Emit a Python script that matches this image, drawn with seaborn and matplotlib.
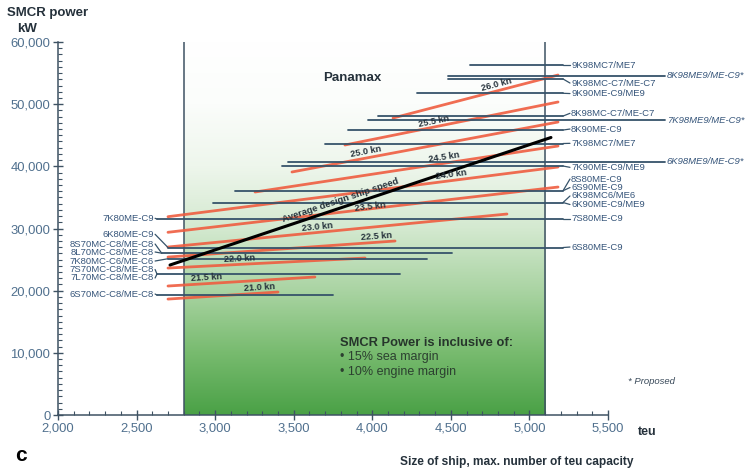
import numpy as np
import pandas as pd
import matplotlib
matplotlib.use('Agg')
import matplotlib.pyplot as plt
import seaborn as sns
from matplotlib.colors import LinearSegmentedColormap
from matplotlib.ticker import MultipleLocator, StrMethodFormatter

# Ship speed lines (kn), end points (teu, kW)
speeds = ['21.0', '21.5', '22.0', '22.5', '23.0', '23.5', '24.0', '24.5', '25.0', '25.5', '26.0']
speed_teu0 = [2700, 2700, 2700, 2700, 2700, 2700, 2700, 3254, 3489, 3826, 4132]
speed_kw0 = [18650, 20750, 23640, 25410, 27020, 29390, 31900, 35870, 39090, 43430, 47770]
speed_teu1 = [3400, 3635, 3954, 4145, 4857, 5182, 5182, 5182, 5182, 5182, 5182]
speed_kw1 = [19780, 22200, 25250, 27990, 32330, 36670, 39890, 43270, 47130, 50350, 54690]
speed_label_teu = [3286, 2948, 3158, 4030, 3655, 3990, 4507, 4463, 3966, 4399, 4800]

# Average design ship speed
avg_teu = [2713, 5137]
avg_kw = [24130, 44640]

# Engine SMCR power lines (kW) and their teu span
line_kw = [56300, 54580, 54050, 51750, 48090, 47450, 45840, 43670, 40740, 40050,
           36080, 34180, 31530, 26940, 26030, 25140, 22680, 19300]
line_teu0 = [4622, 4482, 4482, 4285, 4036, 3973, 3846, 3700, 3464, 3425,
             3126, 2986, 2630, 2700, 2660, 2700, 2630, 2630]
line_teu1 = [5214, 5860, 5214, 5214, 5214, 5860, 5214, 5214, 5860, 5214,
             5214, 5214, 5214, 5214, 4506, 4347, 4176, 3748]

# Engine labels on the right side
right_names = ['9K98MC7/ME7', '9K98MC-C7/ME-C7', '9K90ME-C9/ME9', '8K98MC-C7/ME-C7',
               '8K90ME-C9', '7K98MC7/ME7', '7K90ME-C9/ME9', '8S80ME-C9', '6S90ME-C9',
               '6K98MC6/ME6', '6K90ME-C9/ME9', '7S80ME-C9', '6S80ME-C9']
right_line_kw = [56300, 54050, 51750, 48090, 45840, 43670, 40050, 36080, 36080,
                 34180, 34180, 31530, 26940]
right_label_kw = [56300, 53400, 51710, 48530, 46000, 43700, 39840, 37960, 36590,
                  35230, 33860, 31530, 27020]

# Proposed engines, labels far right
prop_names = ['8K98ME9/ME-C9*', '7K98ME9/ME-C9*', '6K98ME9/ME-C9*']
prop_kw = [54580, 47450, 40740]

# Engine labels on the left side
left_names = ['7K80ME-C9', '6K80ME-C9', '8S70MC-C8/ME-C8', '8L70MC-C8/ME-C8',
              '7K80MC-C6/ME-C6', '7S70MC-C8/ME-C8', '7L70MC-C8/ME-C8', '6S70MC-C8/ME-C8']
left_label_kw = [31640, 29070, 27505, 26220, 24770, 23400, 22040, 19460]
left_line_kw = [31530, 26940, 26030, 26030, 25140, 22680, 22680, 19300]
left_line_teu0 = [2630, 2700, 2660, 2660, 2700, 2630, 2630, 2630]

# Green background gradient (kW level -> colour)
grad_kw = [0, 10000, 20000, 30000, 40000, 50000, 60000]
grad_col = ['#4aa146', '#78bb6f', '#aad4a3', '#d4e9d0', '#eef6ec', '#fbfdfb', '#ffffff']

ENG = '#36536a'
RED = '#ef5d40'
AXC = '#3e5263'
TICK = '#50708e'
LBL = '#36557a'
DARK = '#25313b'
LFS = 6.8

sns.set_theme(style='ticks')
plt.rcParams['font.family'] = ['Liberation Sans', 'DejaVu Sans']

fig = plt.figure(figsize=(7.51, 4.73), dpi=100)
ax = fig.add_axes([0.0772, 0.1226, 0.7324, 0.7886])

cmap = LinearSegmentedColormap.from_list('g', list(zip(np.array(grad_kw) / 60000, grad_col)))
ax.imshow(np.linspace(0, 1, 256).reshape(-1, 1), extent=[2800, 5100, 0, 60000],
          origin='lower', aspect='auto', cmap=cmap, zorder=0)
ax.set_xlim(2000, 5500)
ax.set_ylim(0, 60000)

ax.axvline(2800, color=AXC, lw=1.1, zorder=1)
ax.axvline(5100, color=AXC, lw=1.1, zorder=1)

# speed lines
rows = []
for s, x0, y0, x1, y1 in zip(speeds, speed_teu0, speed_kw0, speed_teu1, speed_kw1):
    rows += [(s, x0, y0), (s, x1, y1)]
spd = pd.DataFrame(rows, columns=['speed', 'teu', 'kW'])
sns.lineplot(data=spd, x='teu', y='kW', units='speed', estimator=None, color=RED,
             lw=2.0, alpha=0.9, ax=ax, zorder=2)

# engine lines
rows = []
for i, (kw, x0, x1) in enumerate(zip(line_kw, line_teu0, line_teu1)):
    rows += [(i, x0, kw), (i, x1, kw)]
eng = pd.DataFrame(rows, columns=['id', 'teu', 'kW'])
sns.lineplot(data=eng, x='teu', y='kW', units='id', estimator=None, color=ENG,
             lw=1.3, ax=ax, zorder=3, clip_on=False)

# average design ship speed
sns.lineplot(x=avg_teu, y=avg_kw, color='black', lw=2.2, ax=ax, zorder=4)


def screen_angle(x0, y0, x1, y1):
    p0 = ax.transData.transform((x0, y0))
    p1 = ax.transData.transform((x1, y1))
    return np.degrees(np.arctan2(p1[1] - p0[1], p1[0] - p0[0]))


for s, x0, y0, x1, y1, xl in zip(speeds, speed_teu0, speed_kw0, speed_teu1, speed_kw1, speed_label_teu):
    yl = y0 + (y1 - y0) * (xl - x0) / (x1 - x0)
    # the 23.5 kn label sits right under the average line, so keep it tight to its line
    dy = -2 if s == '23.5' else 1
    ax.annotate(f'{s} kn', xy=(xl, yl), xytext=(0, dy), textcoords='offset points',
                rotation=screen_angle(x0, y0, x1, y1), rotation_mode='anchor',
                ha='center', va='bottom', fontsize=6.6, weight='bold', color=DARK, zorder=5)

xa = 3807
ya = avg_kw[0] + (avg_kw[1] - avg_kw[0]) * (xa - avg_teu[0]) / (avg_teu[1] - avg_teu[0])
ax.annotate('Average design ship speed', xy=(xa, ya), xytext=(0, 2), textcoords='offset points',
            rotation=screen_angle(avg_teu[0], avg_kw[0], avg_teu[1], avg_kw[1]),
            rotation_mode='anchor', ha='center', va='bottom', fontsize=6.8,
            weight='bold', color=DARK, zorder=5)

# right labels
for name, lk, tk in zip(right_names, right_line_kw, right_label_kw):
    ax.plot([5214, 5258], [lk, tk], color=ENG, lw=0.9, zorder=3, clip_on=False)
    ax.text(5265, tk, name, ha='left', va='center', fontsize=LFS, color=LBL, clip_on=False)
for name, kw in zip(prop_names, prop_kw):
    ax.text(5875, kw, name, ha='left', va='center', fontsize=LFS, color=LBL,
            style='italic', clip_on=False)

# left labels
for name, tk, lk, x0 in zip(left_names, left_label_kw, left_line_kw, left_line_teu0):
    ax.plot([2618, x0], [tk, lk], color=ENG, lw=0.9, zorder=3)
    ax.text(2610, tk, name, ha='right', va='center', fontsize=LFS, color=LBL)

ax.text(3871, 54200, 'Panamax', ha='center', va='center', fontsize=9.5, weight='bold', color=DARK)
ax.text(3795, 11630, 'SMCR Power is inclusive of:', ha='left', va='center', fontsize=9.3,
        weight='bold', color='#26352b')
ax.text(3795, 9280, '\u2022 15% sea margin', ha='left', va='center', fontsize=9, color='#2c4030')
ax.text(3795, 6960, '\u2022 10% engine margin', ha='left', va='center', fontsize=9, color='#2c4030')

ax.xaxis.set_major_locator(MultipleLocator(500))
ax.xaxis.set_minor_locator(MultipleLocator(100))
ax.yaxis.set_major_locator(MultipleLocator(10000))
ax.yaxis.set_minor_locator(MultipleLocator(1000))
ax.xaxis.set_major_formatter(StrMethodFormatter('{x:,.0f}'))
ax.yaxis.set_major_formatter(StrMethodFormatter('{x:,.0f}'))
ax.tick_params(which='major', direction='inout', length=7, width=1, color=AXC,
               labelsize=9.4, labelcolor=TICK, pad=2)
ax.tick_params(which='minor', direction='in', length=3, width=0.8, color=AXC)
ax.set_xlabel('')
ax.set_ylabel('')
sns.despine(ax=ax)
for sp in ['left', 'bottom']:
    ax.spines[sp].set_color(AXC)
    ax.spines[sp].set_linewidth(1.1)

W, H = 751, 473
fig.text(7 / W, 1 - 13 / H, 'SMCR power', ha='left', va='center', fontsize=9.5, weight='bold', color=DARK)
fig.text(17 / W, 1 - 29 / H, 'kW', ha='left', va='center', fontsize=9.5, weight='bold', color=DARK)
fig.text(638 / W, 1 - 432 / H, 'teu', ha='left', va='center', fontsize=9, weight='bold', color=DARK)
fig.text(400 / W, 1 - 462 / H, 'Size of ship, max. number of teu capacity', ha='left', va='center',
         fontsize=8.6, weight='bold', color=DARK)
fig.text(15 / W, 1 - 455 / H, 'c', ha='left', va='center', fontsize=15, weight='bold', color='black')
fig.text(628 / W, 1 - 381 / H, '* Proposed', ha='left', va='center', fontsize=6.8, style='italic', color='#3a4a5a')

fig.savefig('out.png', dpi=100)
